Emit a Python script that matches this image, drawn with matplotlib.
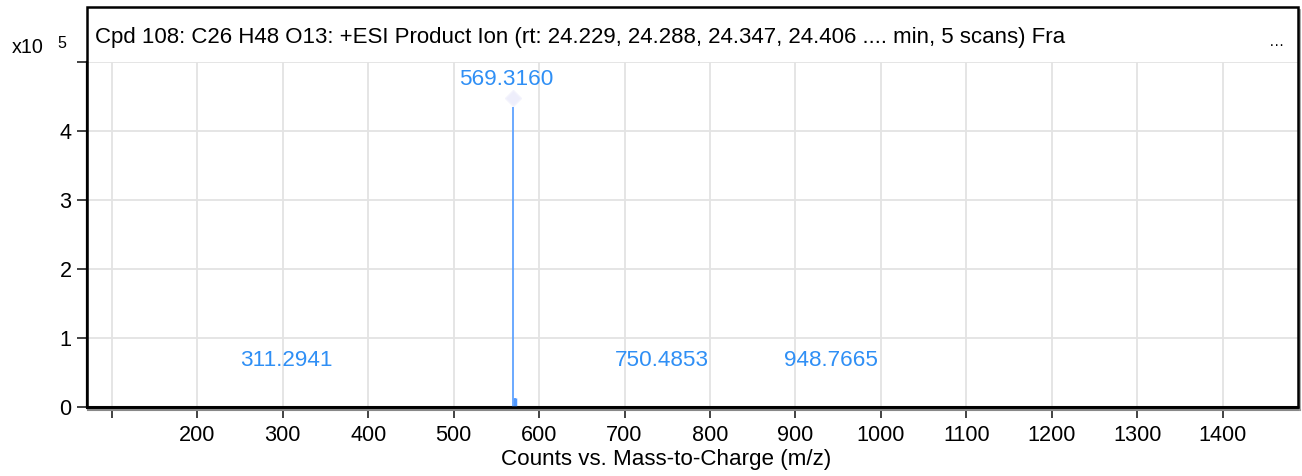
import numpy as np
import matplotlib
matplotlib.use('Agg')
import matplotlib.pyplot as plt
from matplotlib.patches import Rectangle
from matplotlib.lines import Line2D

plt.rcParams['font.family'] = ['Liberation Sans', 'DejaVu Sans']

# peak list (m/z, counts)
mz = [311.2941, 569.3160, 571.3, 750.4853, 948.7665]
counts = [300, 435000, 12500, 400, 300]
labelled = [True, True, False, True, True]

title = 'Cpd 108: C26 H48 O13: +ESI Product Ion (rt: 24.229, 24.288, 24.347, 24.406 .... min, 5 scans) Fra'
xticks = [100, 200, 300, 400, 500, 600, 700, 800, 900, 1000, 1100, 1200, 1300, 1400]
xticklabels = [''] + [str(t) for t in xticks[1:]]
yticks = [0, 1, 2, 3, 4, 5]
yticklabels = ['0', '1', '2', '3', '4', '']

W, H = 1302, 476
fig = plt.figure(figsize=(W / 100, H / 100), dpi=100)
ax = fig.add_axes([87 / W, 1 - 407 / H, (1298 - 87) / W, (407 - 62) / H])

scale = 1e5
y = np.array(counts) / scale
ax.vlines(mz, 0, y, color='#5fa3ff', lw=1.3, zorder=3)
# isotope stick drawn a bit wider
ax.vlines([mz[2]], 0, [y[2]], color='#4f98ff', lw=2.5, zorder=3)

imax = int(np.argmax(y))
ax.plot(mz[imax], y[imax] + 0.13, marker='D', ms=8, color='#eeeefb', mec='#f3f3fc', zorder=4)

for m, h, lab in zip(mz, y, labelled):
    if not lab:
        continue
    ty = max(h + 0.39, 0.68)
    ax.annotate(f'{m:.4f}', (m, ty), xytext=(-4.5, 0), textcoords='offset points',
                color='#2f8ff5', fontsize=16.2, ha='center', va='center', zorder=5)

ax.set_xlim(71, 1488)
ax.set_ylim(0, 5)
ax.set_xticks(xticks)
ax.set_xticklabels(xticklabels)
ax.set_yticks(yticks)
ax.set_yticklabels(yticklabels)
ax.tick_params(axis='both', labelsize=15.6, direction='out', length=7, width=1.2, color='#222222', pad=4)
ax.tick_params(axis='x', length=8, pad=5)
ax.grid(True, color='#e3e3e3', lw=1.3, zorder=0)
ax.set_axisbelow(True)

for s in ['top', 'right']:
    ax.spines[s].set_visible(False)
ax.spines['left'].set_linewidth(1.6)
ax.spines['bottom'].set_linewidth(2.2)
ax.spines['bottom'].set_color('#111111')

# outer frame around plot and title band
fig.add_artist(Rectangle((87 / W, 1 - 407 / H), (1298 - 87) / W, (407 - 7) / H,
                         transform=fig.transFigure, fill=False, lw=1.8, ec='black', zorder=10))
fig.add_artist(Line2D([88 / W, 1300 / W], [1 - 410 / H, 1 - 410 / H], transform=fig.transFigure,
                      color='#888888', lw=1.5))
fig.add_artist(Line2D([1300 / W, 1300 / W], [1 - 10 / H, 1 - 410 / H], transform=fig.transFigure,
                      color='#999999', lw=1.2))

fig.text(95 / W, 1 - 38 / H, title, fontsize=16, va='center', ha='left')
fig.text(1277 / W, 1 - 42 / H, '\u2026', fontsize=11, va='center', ha='center')
fig.text(12 / W, 1 - 53 / H, 'x10', fontsize=14.2, va='baseline', ha='left')
fig.text(57 / W, 1 - 48 / H, '5', fontsize=11.5, va='baseline', ha='left')
fig.text(666 / W, 1 - 459 / H, 'Counts vs. Mass-to-Charge (m/z)', fontsize=16.1, va='center', ha='center')

fig.savefig('out.png', dpi=100)
